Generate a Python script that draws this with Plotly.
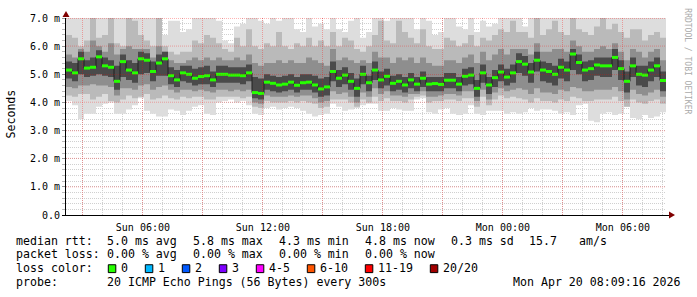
import pandas as pd
import numpy as np
import plotly.graph_objects as go

# ---------------- data ----------------
START = "2026-04-19 02:09:16"
END = "2026-04-20 08:09:16"
STEP = "18min"

median = [5.15,5.05,5.55,5.22,5.25,5.62,5.3,5.25,4.75,5.45,5.15,5.05,5.55,5.5,5.1,5.4,5.55,4.95,4.8,5.05,5.0,4.86,4.92,4.95,4.8,
          5.0,5.0,4.97,4.97,4.95,5.05,4.35,4.32,4.72,4.68,4.62,4.65,4.72,4.61,4.7,4.72,4.62,4.48,4.55,5.1,4.86,4.97,4.75,4.5,5.0,
          4.7,5.15,4.8,4.93,4.68,4.75,4.62,4.8,4.65,4.86,4.65,4.67,4.64,4.79,4.79,4.65,4.93,4.97,4.5,5.05,4.62,4.88,5.08,4.9,5.05,
          5.45,5.36,5.08,5.5,5.15,5.1,5.0,5.25,5.15,5.72,5.42,5.15,5.2,5.33,5.3,5.3,5.6,5.2,4.75,5.3,5.0,4.97,5.15,5.3,4.78]

smoke_hi1 = [7.2,7.2,7.2,7.2,7.2,7.2,7.2,7.2,7.2,7.2,7.2,7.2,7.2,7.2,7.2,7.2,6.4,6.9,6.9,6.5,6.6,7.2,7.1,7.2,7.2,
             6.9,6.2,6.1,6.7,6.8,7.1,7.2,6.9,6.8,7.0,6.9,7.1,7.2,6.6,6.5,7.2,6.7,6.8,6.6,7.0,6.6,6.5,6.9,7.1,6.3,
             6.5,7.2,7.1,6.9,7.1,7.2,7.2,7.0,6.6,7.1,6.9,6.4,6.5,7.2,7.2,6.7,6.6,7.2,6.5,6.9,6.7,6.8,7.2,7.2,7.2,
             7.2,6.7,7.2,7.2,7.2,7.1,7.2,7.0,7.1,7.2,7.2,7.1,7.1,7.0,7.2,7.2,7.2,7.2,7.1,7.0,7.1,7.1,7.1,7.2,7.2]
smoke_hi2 = [6.4,6.3,6.0,6.2,7.2,6.3,6.4,7.0,6.1,6.0,7.2,6.9,6.4,6.2,6.0,7.2,6.0,5.8,5.7,5.8,5.8,6.2,6.1,6.4,6.3,
             6.1,5.9,5.8,6.3,6.0,6.6,6.0,5.9,6.1,6.0,6.5,6.0,5.9,6.1,6.0,6.3,6.0,6.2,6.0,6.5,6.0,6.3,6.2,5.9,5.8,
             6.0,6.4,6.9,6.2,6.1,6.9,6.5,6.3,6.1,6.6,6.0,5.9,5.9,6.3,6.2,6.0,6.1,6.4,6.0,6.3,6.2,6.4,6.6,6.5,6.9,
             6.5,6.5,6.3,7.0,6.4,6.6,6.9,6.5,6.4,7.0,6.6,6.5,6.4,6.7,7.1,6.6,6.8,6.5,6.3,6.6,6.6,6.2,6.4,6.5,6.3]
smoke_hi3 = [5.7,5.6,5.9,5.8,6.2,6.0,5.8,6.1,5.7,5.9,6.0,5.9,5.9,5.9,5.6,6.0,5.8,5.5,5.4,5.4,5.5,5.6,5.5,5.6,5.5,
             5.6,5.5,5.5,5.6,5.5,5.7,5.4,5.3,5.4,5.4,5.5,5.4,5.5,5.4,5.4,5.6,5.5,5.4,5.3,5.9,5.5,5.6,5.5,5.4,5.5,
             5.4,5.8,5.6,5.6,5.4,5.6,5.5,5.6,5.4,5.6,5.4,5.3,5.3,5.5,5.5,5.4,5.6,5.7,5.4,5.8,5.5,5.7,5.9,5.7,5.9,
             5.9,5.9,5.7,6.1,5.8,5.8,5.9,5.9,5.8,6.2,6.0,5.8,5.8,5.9,6.0,5.9,6.1,5.8,5.5,5.9,5.8,5.6,5.8,5.9,5.5]
smoke_hi4 = [5.45,5.4,5.8,5.5,5.6,5.85,5.6,5.5,5.3,5.7,5.5,5.4,5.8,5.75,5.45,5.7,5.8,5.25,5.15,5.3,5.3,5.2,5.25,5.3,5.1,
             5.3,5.3,5.25,5.25,5.25,5.35,4.9,4.85,5.0,4.95,4.9,4.95,5.0,4.9,5.0,5.0,4.95,4.85,4.9,5.45,5.15,5.25,5.05,4.85,5.3,
             4.95,5.45,5.1,5.2,4.95,5.0,4.9,5.05,4.9,5.1,4.9,4.9,4.9,5.05,5.05,4.9,5.2,5.25,4.8,5.35,4.9,5.15,5.35,5.2,5.35,
             5.75,5.65,5.4,5.8,5.45,5.4,5.3,5.55,5.45,5.9,5.7,5.45,5.5,5.6,5.6,5.6,5.9,5.5,5.1,5.6,5.3,5.3,5.45,5.6,5.1]
smoke_lo4 = [4.85,4.75,5.0,4.9,4.95,5.0,4.95,4.9,4.45,4.9,4.8,4.7,5.0,5.05,4.75,4.95,4.95,4.65,4.55,4.75,4.7,4.6,4.65,4.65,4.55,
             4.7,4.7,4.7,4.7,4.65,4.75,4.15,4.1,4.45,4.4,4.35,4.4,4.45,4.35,4.45,4.45,4.35,4.2,4.25,4.75,4.55,4.65,4.45,4.2,4.65,
             4.4,4.8,4.5,4.6,4.4,4.45,4.35,4.5,4.4,4.55,4.4,4.4,4.4,4.5,4.5,4.4,4.6,4.65,4.2,4.7,4.3,4.55,4.75,4.6,4.7,
             5.05,4.95,4.7,5.1,4.75,4.7,4.6,4.85,4.75,5.15,5.0,4.75,4.8,4.95,4.9,4.9,5.15,4.8,4.35,4.9,4.6,4.55,4.75,4.9,4.4]
smoke_lo3 = [4.55,4.5,4.6,4.6,4.65,4.6,4.6,4.55,4.25,4.5,4.5,4.45,4.6,4.65,4.45,4.55,4.6,4.45,4.35,4.45,4.45,4.4,4.45,4.4,4.35,
             4.45,4.45,4.4,4.45,4.4,4.45,4.0,3.95,4.25,4.2,4.2,4.2,4.25,4.2,4.25,4.25,4.15,4.0,4.05,4.4,4.3,4.35,4.2,4.0,4.35,
             4.2,4.5,4.3,4.4,4.25,4.25,4.2,4.3,4.3,4.4,4.2,4.2,4.25,4.3,4.3,4.25,4.4,4.4,4.05,4.45,4.1,4.35,4.5,4.4,4.45,
             4.5,4.45,4.3,4.5,4.35,4.35,4.3,4.45,4.4,4.55,4.5,4.4,4.4,4.45,4.45,4.45,4.55,4.4,4.1,4.45,4.3,4.25,4.35,4.45,4.2]
smoke_lo2 = [4.25,4.2,4.3,4.3,4.1,4.2,4.3,4.05,4.0,4.1,4.25,4.15,4.2,4.3,4.1,4.15,4.25,4.15,4.1,4.2,4.15,4.2,4.2,4.1,4.1,
             4.2,4.2,4.2,4.2,4.15,4.2,3.85,3.8,4.05,4.0,4.0,4.0,4.05,4.0,4.05,4.0,3.95,3.8,3.85,4.1,4.1,4.1,4.0,3.85,4.1,
             4.0,4.2,4.05,4.15,4.05,4.05,4.0,4.1,4.2,4.25,4.0,4.05,4.05,4.1,4.1,4.05,4.15,4.15,3.85,4.2,3.9,4.1,4.25,4.15,4.2,
             4.15,4.1,4.0,4.15,4.05,4.05,4.0,4.1,4.05,4.2,4.15,4.05,4.05,4.1,4.1,4.1,4.2,4.05,3.85,4.1,4.0,3.95,4.05,4.1,3.95]
smoke_lo1 = [4.05,3.9,3.4,3.6,3.6,3.85,3.95,4.0,3.6,3.6,3.75,3.9,4.15,3.7,3.6,3.5,3.5,3.75,3.7,3.55,3.7,3.85,3.9,3.6,3.55,
             4.0,4.05,4.1,4.0,4.05,3.9,3.6,3.55,3.8,3.85,3.75,3.8,3.85,3.8,3.7,3.6,3.5,3.55,3.6,3.95,3.85,3.7,3.75,3.8,3.9,
             3.95,3.95,3.7,3.7,3.8,3.75,3.7,3.7,4.1,4.15,3.65,3.6,3.75,3.8,3.6,3.55,3.6,3.9,3.6,3.55,3.7,3.7,3.7,3.6,3.65,
             3.6,3.65,3.8,3.7,3.75,3.75,3.7,3.6,3.65,3.55,3.9,3.95,3.35,3.3,3.6,3.65,3.55,3.6,3.85,3.45,3.4,3.55,3.45,3.5,3.65]

YTICK_VALS = [0, 1, 2, 3, 4, 5, 6, 7]
YTICK_TEXT = ["0.0", "1.0 m", "2.0 m", "3.0 m", "4.0 m", "5.0 m", "6.0 m", "7.0 m"]
XTICK_VALS = ["2026-04-19 03:00", "2026-04-19 06:00", "2026-04-19 09:00", "2026-04-19 12:00",
              "2026-04-19 15:00", "2026-04-19 18:00", "2026-04-19 21:00", "2026-04-20 00:00",
              "2026-04-20 03:00", "2026-04-20 06:00"]
XTICK_TEXT = ["", "Sun 06:00", "", "Sun 12:00", "", "Sun 18:00", "", "Mon 00:00", "", "Mon 06:00"]

LOSS_LABELS = ["0", "1", "2", "3", "4-5", "6-10", "11-19", "20/20"]
LOSS_COLORS = ["#26ff00", "#00b8ff", "#0059ff", "#7e00ff", "#ff00ff", "#ff5500", "#ff0000", "#a10000"]

LINE1 = [("median rtt:", 16), ("5.0 ms avg", 107), ("5.8 ms max", 193), ("4.3 ms min", 279),
         ("4.8 ms now", 365), ("0.3 ms sd", 451), ("15.7", 529), ("am/s", 579)]
LINE2 = [("packet loss:", 16), ("0.00 % avg", 107), ("0.00 % max", 193), ("0.00 % min", 279),
         ("0.00 % now", 365)]
PROBE = "20 ICMP Echo Pings (56 Bytes) every 300s"
STAMP = "Mon Apr 20 08:09:16 2026"

# ---------------- figure ----------------
W, H = 697, 297
L, R, T, B = 66, 31, 15, 82
PW, PH = W - L - R, H - T - B

N = len(median)
t = pd.date_range(START, periods=N + 1, freq=STEP)
t0, t1 = pd.Timestamp(START), pd.Timestamp(END)

fig = go.Figure()


def band(lo, hi, color):
    xs, ys = [], []
    for i in range(N):
        xs += [t[i], t[i + 1]]
        ys += [hi[i], hi[i]]
    for i in reversed(range(N)):
        xs += [t[i + 1], t[i]]
        ys += [lo[i], lo[i]]
    fig.add_trace(go.Scatter(x=xs, y=ys, fill="toself", fillcolor=color, mode="lines",
                             line=dict(width=0, color=color), hoverinfo="skip", showlegend=False))


band(smoke_lo1, smoke_hi1, "#dddddd")
band(smoke_lo2, smoke_hi2, "#bababa")
band(smoke_lo3, smoke_hi3, "#8e8e8e")
band(smoke_lo4, smoke_hi4, "#4a4a4a")

# median line (step)
fig.add_trace(go.Scatter(x=list(t), y=median + [median[-1]], mode="lines", line_shape="hv",
                         line=dict(color="#202020", width=1), hoverinfo="skip", showlegend=False))
# loss-colored median pieces
gx, gy = [], []
for i in range(N):
    gx += [t[i], t[i + 1], None]
    gy += [median[i], median[i], None]
fig.add_trace(go.Scatter(x=gx, y=gy, mode="lines", line=dict(color=LOSS_COLORS[0], width=3),
                         hoverinfo="skip", showlegend=False))

shapes = []
MGRID = "rgba(255,0,0,0.3)"
# major grid lines drawn above the data (rrdtool style), snapped to pixel centres
for v in XTICK_VALS:
    p = L + (pd.Timestamp(v) - t0) / (t1 - t0) * PW
    xp = (np.floor(p) + 0.5 - L) / PW
    shapes.append(dict(type="line", xref="paper", yref="paper", x0=xp, x1=xp, y0=0, y1=1, layer="above",
                       line=dict(color=MGRID, width=1, dash="1px,1px")))
for v in YTICK_VALS[1:]:
    p = T + PH - v / 7 * PH
    yp = (T + PH - (np.floor(p) + 0.5)) / PH
    shapes.append(dict(type="line", xref="paper", yref="paper", x0=0, x1=1, y0=yp, y1=yp, layer="above",
                       line=dict(color=MGRID, width=1, dash="1px,1px")))

# arrows
ARROW = "#800000"
shapes.append(dict(type="path", xref="paper", yref="paper", xsizemode="pixel", ysizemode="pixel",
                   xanchor=0, yanchor=1, path="M-3.5,1 L3.5,1 L0,7 Z", fillcolor=ARROW,
                   line=dict(width=0), layer="above"))
shapes.append(dict(type="path", xref="paper", yref="paper", xsizemode="pixel", ysizemode="pixel",
                   xanchor=1, yanchor=0, path="M3,-3.5 L3,3.5 L9,0 Z", fillcolor=ARROW,
                   line=dict(width=0), layer="above"))
shapes.append(dict(type="path", xref="paper", yref="paper", xsizemode="pixel", ysizemode="pixel",
                   xanchor=0, yanchor=0, path="M-4,-0.5 L603,-0.5", line=dict(color="#000", width=1),
                   layer="above"))


def px(xp):
    return (xp - L) / PW


def py(yp):
    return (T + PH - yp) / PH


MONO = "DejaVu Sans Mono"
ann = []


def text(s, x, y, anchor="left", size=11.6, color="#000", angle=0):
    ann.append(dict(text=s, x=px(x), y=py(y), xref="paper", yref="paper", xanchor=anchor,
                    yanchor="middle", showarrow=False, borderpad=0, borderwidth=0, textangle=angle,
                    font=dict(family=MONO, size=size, color=color)))


for s, x in LINE1:
    text(s, x - 0.5, 241)
for s, x in LINE2:
    text(s, x - 0.5, 255)
text("loss color:", 15.5, 269)
sx = 108.3
for lab, col in zip(LOSS_LABELS, LOSS_COLORS):
    shapes.append(dict(type="rect", xref="paper", yref="paper", x0=px(sx), x1=px(sx + 7.5),
                       y0=py(273.5), y1=py(265.5), fillcolor=col, line=dict(color="#000", width=1),
                       layer="above"))
    text(lab, sx + 13, 269)
    sx += 30 + 7 * len(lab)
text("probe:", 15.5, 283)
text(PROBE, 106.5, 283)
text(STAMP, 681, 283, anchor="right")
text("Seconds", 11, 113, anchor="center", angle=-90)
text("RRDTOOL / TOBI OETIKER", 688, 59, anchor="center", size=8, color="#aaaaaa", angle=90)

fig.update_layout(width=W, height=H, margin=dict(l=L, r=R, t=T, b=B, pad=0),
                  paper_bgcolor="#ffffff", plot_bgcolor="#ffffff", showlegend=False,
                  shapes=shapes, annotations=ann)

fig.update_xaxes(type="date", range=[START, END], tickmode="array", tickvals=XTICK_VALS,
                 ticktext=XTICK_TEXT, showgrid=False, ticks="outside", ticklen=3,
                 tickcolor="rgba(0,0,0,0)", zeroline=False,
                 showline=False, tickfont=dict(family=MONO, size=10, color="#000"),
                 minor=dict(dtick=3600000, tick0="2026-04-19 00:00", showgrid=True,
                            gridcolor="#d0d0d0", griddash="1px,1px"),
                 fixedrange=True)
fig.update_yaxes(range=[0, 7], tickmode="array", tickvals=YTICK_VALS, ticktext=YTICK_TEXT,
                 showgrid=False, zeroline=False, showline=True, linecolor="#000", linewidth=1,
                 ticks="outside", ticklen=3, tickcolor="#999999",
                 tickfont=dict(family=MONO, size=10, color="#000"),
                 minor=dict(dtick=0.2, showgrid=True, gridcolor="#d0d0d0", griddash="1px,1px",
                            ticks="outside", ticklen=3, tickcolor="#bbbbbb"),
                 fixedrange=True)

fig.write_html("out.html", config={"displayModeBar": False})
